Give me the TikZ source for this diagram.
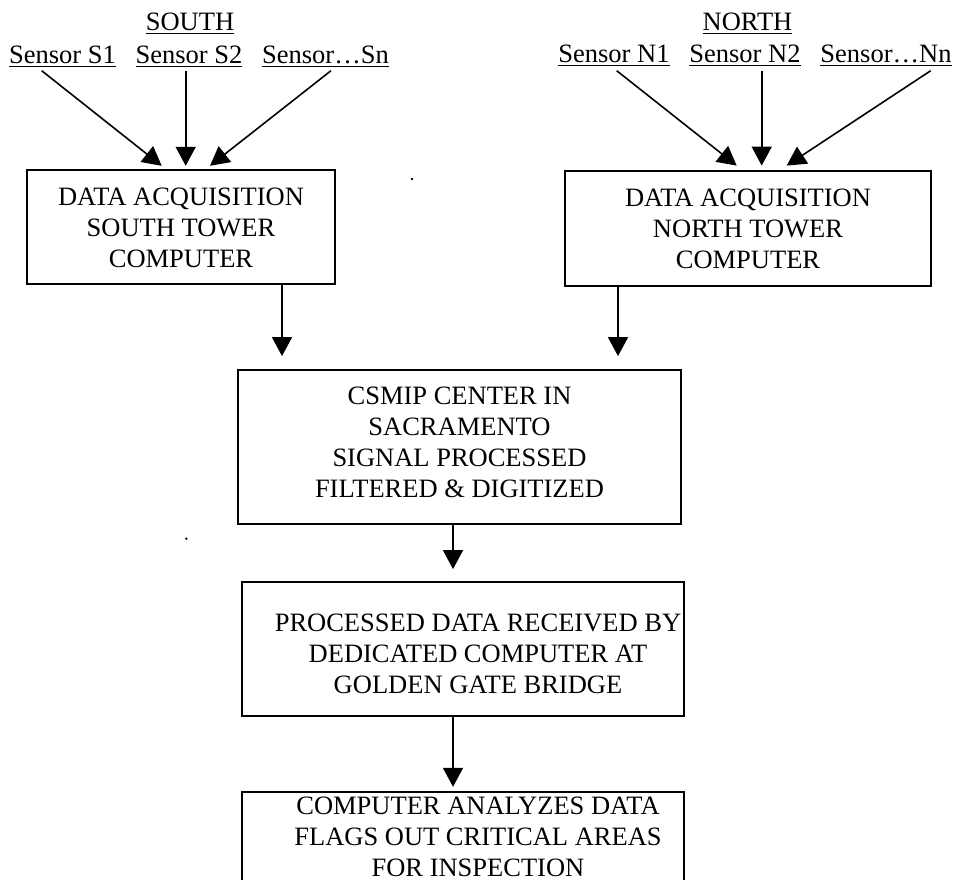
\documentclass[tikz,border=0pt]{standalone}
\usepackage{fontspec}
\setmainfont{Liberation Serif}
\usetikzlibrary{arrows.meta}
\newcommand{\myul}[1]{\setbox0\hbox{#1}\rlap{\rule[-3.6pt]{\wd0}{1.3pt}}\box0}
\begin{document}
\begin{tikzpicture}[x=1pt,y=-1pt,
  every node/.style={font=\fontsize{26.5}{31}\selectfont},
  lbl/.style={anchor=base, inner sep=0pt},
  box/.style={draw, line width=1.8pt, inner sep=0pt},
  txt/.style={align=center, inner sep=0pt},
  arr/.style={line width=1.6pt, -{Triangle[length=19pt,width=20pt]}},
  dotmark/.style={circle, fill, inner sep=0pt, minimum size=2.6pt}]
\useasboundingbox (0,0) rectangle (954,879);

% headings and sensors
\node[lbl] (south) at (190,30.7) {\myul{SOUTH}};
\node[lbl] (s1) at (62.5,63.3) {\myul{Sensor S1}};
\node[lbl] (s2) at (189,63.3) {\myul{Sensor S2}};
\node[lbl] (sn) at (325.5,63.3) {\myul{Sensor…Sn}};
\node[lbl] (north) at (747.5,30.7) {\myul{NORTH}};
\node[lbl] (n1) at (614,62.5) {\myul{Sensor N1}};
\node[lbl] (n2) at (745,62.5) {\myul{Sensor N2}};
\node[lbl] (nn) at (886,62.5) {\myul{Sensor…Nn}};

% boxes
\node[box, minimum width=308pt, minimum height=114pt] (sbox) at (181,227) {};
\node[txt] (stext) at (181,228) {DATA ACQUISITION\\SOUTH TOWER\\COMPUTER};
\node[box, minimum width=366pt, minimum height=115pt] (nbox) at (748,228.5) {};
\node[txt] (ntext) at (748,229) {DATA ACQUISITION\\NORTH TOWER\\COMPUTER};
\node[box, minimum width=443pt, minimum height=154pt] (csmip) at (459.5,447) {};
\node[txt] (ctext) at (459.5,442) {CSMIP CENTER IN\\SACRAMENTO\\SIGNAL PROCESSED\\FILTERED \& DIGITIZED};
\node[box, minimum width=442pt, minimum height=134pt] (proc) at (463,649) {};
\node[txt] (ptext) at (478,654) {PROCESSED DATA RECEIVED BY\\DEDICATED COMPUTER AT\\GOLDEN GATE BRIDGE};
\node[inner sep=0pt, minimum width=442pt, minimum height=108pt] (an) at (463,846) {};
\draw[line width=1.8pt] (an.south west) -- (an.north west) -- (an.north east) -- (an.south east);
\node[txt] (atext) at (478,836.5) {COMPUTER ANALYZES DATA\\FLAGS OUT CRITICAL AREAS\\FOR INSPECTION};

% stray marks
\node[dotmark] (d1) at (412,179) {};
\node[dotmark] (d2) at (186.3,538.7) {};

% sensor arrows
\draw[arr] ([xshift=-20.8pt,yshift=-7.4pt]s1.base) -- ([xshift=-19.3pt,yshift=3.3pt]sbox.north);
\draw[arr] ([xshift=-3.3pt,yshift=-7.4pt]s2.base) -- ([xshift=4.7pt,yshift=3.3pt]sbox.north);
\draw[arr] ([xshift=5.5pt,yshift=-7.4pt]sn.base) -- ([xshift=29pt,yshift=3.3pt]sbox.north);
\draw[arr] ([xshift=2.7pt,yshift=-8.2pt]n1.base) -- ([xshift=-11.3pt,yshift=4.5pt]nbox.north);
\draw[arr] ([xshift=16.7pt,yshift=-8.2pt]n2.base) -- ([xshift=13.7pt,yshift=4.5pt]nbox.north);
\draw[arr] ([xshift=44.7pt,yshift=-8.2pt]nn.base) -- ([xshift=38.7pt,yshift=4.5pt]nbox.north);

% flow arrows
\coordinate (xs) at (282,0);
\coordinate (xn) at (618,0);
\coordinate (xc) at (453,0);
\draw[arr, shorten >=13pt] (sbox.south -| xs) -- (csmip.north -| xs);
\draw[arr, shorten >=13pt] (nbox.south -| xn) -- (csmip.north -| xn);
\draw[arr, shorten >=12pt] (csmip.south -| xc) -- (proc.north -| xc);
\draw[arr, shorten >=5pt] (proc.south -| xc) -- (an.north -| xc);
\end{tikzpicture}
\end{document}
